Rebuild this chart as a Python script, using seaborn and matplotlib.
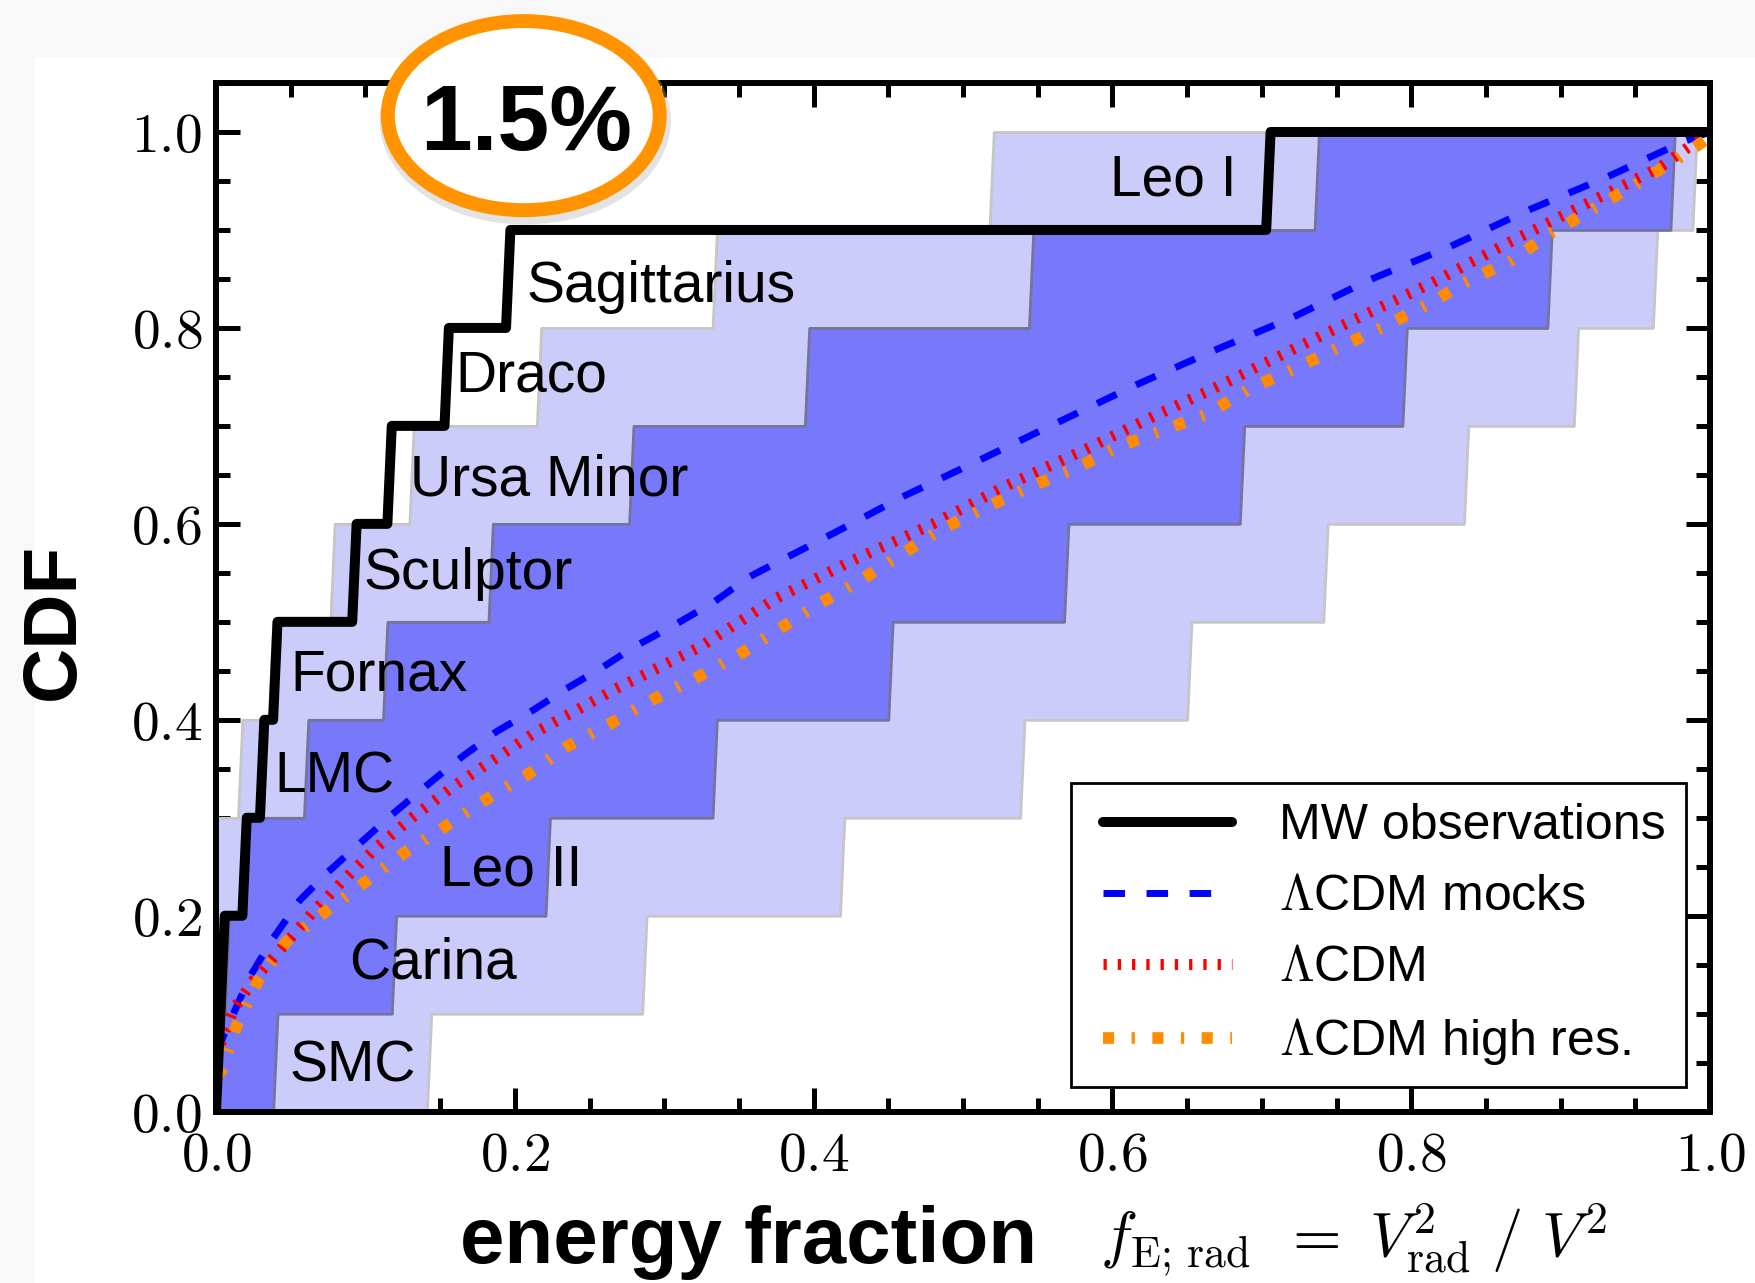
import numpy as np
import matplotlib
matplotlib.use("Agg")
import matplotlib.pyplot as plt
from matplotlib.patches import Ellipse, Rectangle
from matplotlib.ticker import MultipleLocator, FuncFormatter
from matplotlib.legend_handler import HandlerLine2D
from matplotlib.lines import Line2D
import seaborn as sns

# Milky Way satellites, ordered by radial energy fraction
satellites = ["SMC", "Carina", "Leo II", "LMC", "Fornax", "Sculptor",
              "Ursa Minor", "Draco", "Sagittarius", "Leo I"]
mw_fE = [0.001, 0.003, 0.019, 0.031, 0.040, 0.094, 0.117, 0.155, 0.197, 0.703]

# label anchor (baseline) for each satellite name
label_x = [0.049, 0.089, 0.150, 0.039, 0.050, 0.099, 0.130, 0.160, 0.208, 0.6832]
label_y = [0.0306, 0.136, 0.2313, 0.3255, 0.4303, 0.534, 0.6293, 0.7347, 0.8262, 0.9354]

# envelopes of the mock CDFs: for each CDF step k/10..(k+1)/10 the left/right edge in f_E
outer_left = [0.0, 0.0, 0.0, 0.017, 0.036, 0.078, 0.132, 0.216, 0.333, 0.520]
outer_right = [0.144, 0.288, 0.418, 0.540, 0.651, 0.744, 0.838, 0.9115, 0.9645, 0.991]
inner_left = [0.0, 0.006, 0.020, 0.060, 0.113, 0.1845, 0.277, 0.397, 0.547, 0.737]
inner_right = [0.040, 0.1205, 0.2235, 0.334, 0.450, 0.569, 0.687, 0.797, 0.894, 0.974]

# mean CDFs
mocks_x = [0.0, 0.0105, 0.0228, 0.0373, 0.0562, 0.0752, 0.0964, 0.1176, 0.141, 0.1644,
           0.1878, 0.2124, 0.2347, 0.2592, 0.2793, 0.306, 0.333, 0.357, 0.409, 0.460,
           0.511, 0.564, 0.616, 0.668, 0.721, 0.772, 0.826, 0.878, 0.931, 0.982, 1.0]
mocks_y = [0.060, 0.096, 0.138, 0.175, 0.216, 0.245, 0.274, 0.303, 0.333, 0.362,
           0.388, 0.410, 0.432, 0.454, 0.474, 0.496, 0.520, 0.546, 0.587, 0.628,
           0.665, 0.704, 0.742, 0.777, 0.811, 0.849, 0.883, 0.920, 0.954, 0.990, 1.0]

lcdm_x = [0.0, 0.0038, 0.0116, 0.025, 0.0428, 0.0651, 0.0852, 0.1075, 0.132, 0.1588,
          0.1856, 0.2124, 0.2414, 0.2682, 0.2972, 0.324, 0.375, 0.4266, 0.48, 0.529,
          0.5805, 0.632, 0.6676, 0.71, 0.7613, 0.8126, 0.8639, 0.915, 0.9665, 1.0]
lcdm_y = [0.055, 0.073, 0.104, 0.134, 0.165, 0.204, 0.236, 0.270, 0.301, 0.332,
          0.359, 0.386, 0.410, 0.432, 0.454, 0.4745, 0.524, 0.563, 0.600, 0.639,
          0.675, 0.713, 0.738, 0.770, 0.808, 0.845, 0.886, 0.925, 0.964, 1.0]

hires_x = [0.0, 0.0038, 0.0139, 0.0283, 0.047, 0.073, 0.0986, 0.1254, 0.1533, 0.18,
           0.208, 0.2347, 0.2626, 0.2916, 0.3217, 0.3496, 0.3764, 0.401, 0.431, 0.4556,
           0.4846, 0.5136, 0.545, 0.576, 0.6028, 0.634, 0.664, 0.692, 0.722, 0.7523,
           0.7813, 0.81, 0.837, 0.8672, 0.893, 0.922, 0.9475, 0.9777, 1.0]
hires_y = [0.035, 0.042, 0.088, 0.134, 0.1735, 0.204, 0.233, 0.2636, 0.291, 0.318,
           0.3436, 0.3726, 0.395, 0.420, 0.443, 0.466, 0.492, 0.516, 0.542, 0.566,
           0.5936, 0.6156, 0.638, 0.657, 0.678, 0.6956, 0.7126, 0.738, 0.7585, 0.7806,
           0.801, 0.823, 0.847, 0.869, 0.8963, 0.9218, 0.944, 0.972, 0.995]

legend_labels = ["MW observations", r"$\Lambda$CDM mocks", r"$\Lambda$CDM",
                 r"$\Lambda$CDM high res."]
callout_text = "1.5%"

sns.set_style("ticks")
plt.rcParams["font.family"] = ["Liberation Sans", "DejaVu Sans"]
plt.rcParams["mathtext.fontset"] = "cm"
for key in ("text.color", "axes.labelcolor", "xtick.color", "ytick.color",
            "axes.edgecolor"):
    plt.rcParams[key] = "black"

W, H = 1755, 1283
fig = plt.figure(figsize=(W / 100, H / 100), dpi=100)
fig.patch.set_facecolor("#f8f8f8")
fig.add_artist(Rectangle((34 / W, 0), 1, 1 - 57 / H, transform=fig.transFigure,
                         facecolor="white", edgecolor="none", zorder=-5))

ax_l, ax_r, ax_t, ax_b = 216, 1710, 83, 1111.7
ax = fig.add_axes([ax_l / W, 1 - ax_b / H, (ax_r - ax_l) / W, (ax_b - ax_t) / H])
ax.set_facecolor("white")

grid = np.linspace(0.0, 1.0, 341)


def envelope(left, right):
    left = np.asarray(left)
    right = np.asarray(right)
    upper = np.array([(left <= g).sum() for g in grid]) / len(left)
    lower = np.array([(right < g).sum() for g in grid]) / len(right)
    return lower, upper


lo95, hi95 = envelope(outer_left, outer_right)
lo68, hi68 = envelope(inner_left, inner_right)
ax.fill_between(grid, lo95, hi95, facecolor="#ccccfa", edgecolor="#c6c6c6",
                linewidth=2.0, zorder=1)
ax.fill_between(grid, lo68, hi68, facecolor="#7878fb", edgecolor="#75759a",
                linewidth=2.0, zorder=1.2)

sns.lineplot(x=mocks_x, y=mocks_y, ax=ax, color="#0000ff", linewidth=5.0,
             linestyle=(0, (3.1, 3.1)), zorder=3)
sns.lineplot(x=lcdm_x, y=lcdm_y, ax=ax, color="#ff0000", linewidth=7.9,
             linestyle=(0, (0.3, 1.0)), zorder=3)
sns.lineplot(x=hires_x, y=hires_y, ax=ax, color="#ff8c00", linewidth=8.4,
             linestyle=(0, (0.95, 1.5, 0.28, 1.5)), zorder=3)

mw_sorted = np.sort(mw_fE)
mw_cdf = np.searchsorted(mw_sorted, grid, side="right") / len(mw_sorted)
sns.lineplot(x=grid, y=mw_cdf, ax=ax, color="black", linewidth=7.2, zorder=4)

line_mocks, line_lcdm, line_hires, line_mw = ax.get_lines()[-4:]

for name, lx, ly in zip(satellites, label_x, label_y):
    ax.text(lx, ly, name, fontsize=41, color="black",
            ha="right" if name == "Leo I" else "left", va="baseline", zorder=5)

ax.set_xlim(0, 1)
ax.set_ylim(0, 1.05)
for axis in (ax.xaxis, ax.yaxis):
    axis.set_major_locator(MultipleLocator(0.2))
    axis.set_minor_locator(MultipleLocator(0.05))
    axis.set_major_formatter(FuncFormatter(lambda v, p: rf"${v:.1f}$"))
ax.tick_params(which="both", direction="in", top=True, right=True, width=3.6,
               color="black", labelcolor="black")
ax.tick_params(which="major", length=17, labelsize=40, pad=10)
ax.tick_params(axis="x", which="major", pad=14)
ax.tick_params(which="minor", length=10)
for sp in ax.spines.values():
    sp.set_linewidth(4.3)
    sp.set_color("black")
    sp.set_visible(True)

ax.set_ylabel("CDF", fontsize=55, fontweight="bold", va="center", color="black")
ax.yaxis.set_label_coords((54 - ax_l) / (ax_r - ax_l), (ax_b - 621) / (ax_b - ax_t))
ax.set_xlabel("energy fraction", fontsize=57.5, fontweight="bold", ha="left",
              va="baseline", color="black")
ax.xaxis.set_label_coords((460 - ax_l) / (ax_r - ax_l), (ax_b - 1262.6) / (ax_b - ax_t))
ax.text((1100 - ax_l) / (ax_r - ax_l), (ax_b - 1257) / (ax_b - ax_t),
        r"$f_{\rm E;\,rad}\ \,=\ V_{\rm rad}^{2}\ /\ V^{2}$", fontsize=45,
        color="black", ha="left", va="baseline", transform=ax.transAxes,
        clip_on=False)

# legend handles sit a little in from the frame's left edge
handle_pad = HandlerLine2D(xpad=0.25)
leg = ax.legend([line_mw, line_mocks, line_lcdm, line_hires], legend_labels,
                handler_map={Line2D: handle_pad},
                loc="lower right", bbox_to_anchor=(0.9837, 0.0237),
                bbox_transform=ax.transAxes, borderaxespad=0, fontsize=36,
                handlelength=2.82, handletextpad=0.95, borderpad=0.4,
                labelspacing=0.5, frameon=True, fancybox=False,
                edgecolor="black", framealpha=1)
leg.get_frame().set_linewidth(2.0)
leg.set_zorder(6)
for t in leg.get_texts():
    t.set_color("black")

# circled callout above the observed curve
ax.add_patch(Ellipse((0.207, 1.012), 0.182, 0.193, transform=ax.transData,
                     facecolor="none", edgecolor="#b0b0b0", linewidth=14,
                     alpha=0.35, clip_on=False, zorder=9))
ax.add_patch(Ellipse((0.206, 1.0167), 0.182, 0.193, transform=ax.transData,
                     facecolor="white", edgecolor="#ff9300", linewidth=10,
                     clip_on=False, zorder=10))
ax.text(0.2074, 0.9813, callout_text, fontsize=67, fontweight="bold", ha="center",
        va="baseline", color="black", zorder=11, clip_on=False)

fig.savefig("out.png", dpi=100, facecolor=fig.get_facecolor())
